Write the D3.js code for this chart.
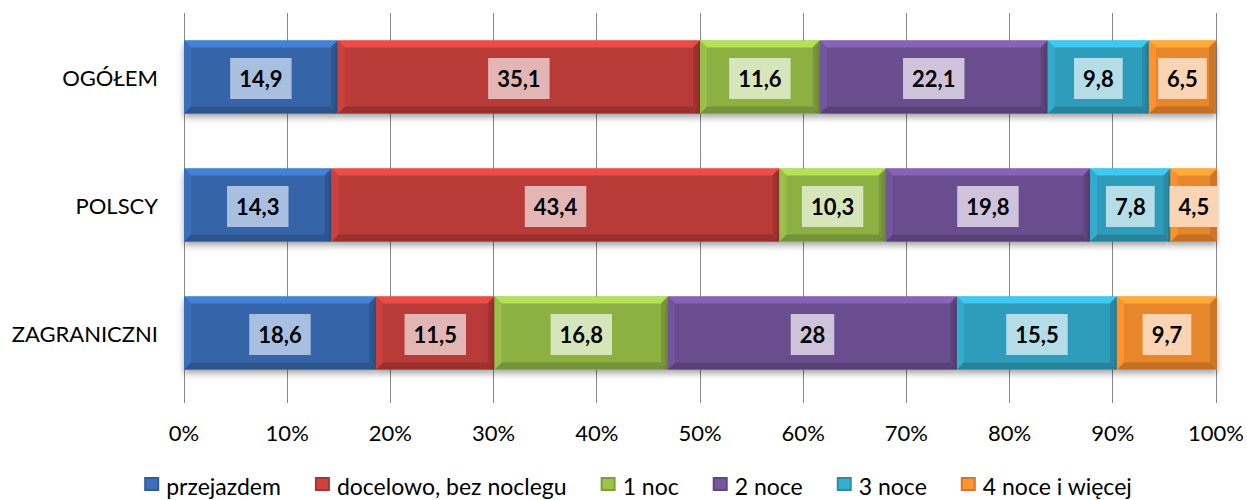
<!DOCTYPE html>
<html><head><meta charset="utf-8">
<script src="https://cdn.jsdelivr.net/npm/d3@7"></script>
<style>body{margin:0;background:#fff}svg{display:block;font-family:Lato,"Open Sans",sans-serif}</style>
</head><body><svg id="c" width="1247" height="500"></svg>
<script>
const categories = ["OGÓŁEM","POLSCY","ZAGRANICZNI"];
const seriesNames = ["przejazdem","docelowo, bez noclegu","1 noc","2 noce","3 noce","4 noce i więcej"];
const przejazdem = [14.9,14.3,18.6];
const docelowo = [35.1,43.4,11.5];
const noc1 = [11.6,10.3,16.8];
const noce2 = [22.1,19.8,28];
const noce3 = [9.8,7.8,15.5];
const noce4 = [6.5,4.5,9.7];
const seriesValues = [przejazdem,docelowo,noc1,noce2,noce3,noce4];
const tickValues = [0,10,20,30,40,50,60,70,80,90,100];
const colors = ["#3565a8","#b93b38","#8cb043","#6a4e8e","#2f9dbb","#e8862b"];
const labelBg = ["#a9bfdf","#e3b5b4","#d6e5ba","#cfc3dc","#b5dde8","#fbd4b4"];

const svg = d3.select("#c");
const x = d3.scaleLinear().domain([0,100]).range([184,1216]);
const y = d3.scaleBand().domain(categories).range([13,397]).paddingInner(0.43).paddingOuter(0.215);

const defs = svg.append("defs");
const f = defs.append("filter").attr("id","sh").attr("x","-5%").attr("y","-20%").attr("width","110%").attr("height","160%");
f.append("feDropShadow").attr("dx",0).attr("dy",4).attr("stdDeviation",3).attr("flood-color","#000").attr("flood-opacity",0.35);

// grid
svg.append("g").selectAll("line").data(tickValues).join("line")
  .attr("x1",d=>x(d)).attr("x2",d=>x(d)).attr("y1",13).attr("y2",403)
  .attr("stroke","#878787").attr("stroke-width",1).attr("shape-rendering","crispEdges");

// tick labels
svg.append("g").selectAll("text").data(tickValues).join("text")
  .attr("x",d=>x(d)).attr("y",441).attr("text-anchor","middle")
  .attr("font-size",22).attr("fill","#000").text(d=>d+"%");

// category labels
svg.append("g").selectAll("text").data(categories).join("text")
  .attr("x",158).attr("y",d=>y(d)+y.bandwidth()/2+9).attr("text-anchor","end")
  .attr("font-size",22).attr("fill","#000").text(d=>d);

const segs = [];
categories.forEach((c,ci)=>{
  let acc=0;
  seriesValues.forEach((s,si)=>{segs.push({c,si,v:s[ci],x0:acc,x1:acc+s[ci]});acc+=s[ci];});
});

const bh = y.bandwidth();
const bev = 7;
const g = svg.append("g");
segs.forEach(d=>{
  const x0=x(d.x0), x1=x(d.x1), y0=y(d.c), y1=y0+bh, col=d3.color(colors[d.si]);
  const gg = g.append("g");
  gg.append("rect").attr("x",x0).attr("y",y0).attr("width",x1-x0).attr("height",bh).attr("fill",col).attr("filter","url(#sh)");
  const b = Math.min(bev,(x1-x0)/2);
  gg.append("polygon").attr("points",[[x0,y0],[x1,y0],[x1-b,y0+b],[x0+b,y0+b]].join(" ")).attr("fill",col.brighter(0.7));
  gg.append("polygon").attr("points",[[x0,y1],[x1,y1],[x1-b,y1-b],[x0+b,y1-b]].join(" ")).attr("fill",col.darker(0.5));
  gg.append("polygon").attr("points",[[x0,y0],[x0+b,y0+b],[x0+b,y1-b],[x0,y1]].join(" ")).attr("fill",col.brighter(0.25));
  gg.append("polygon").attr("points",[[x1,y0],[x1-b,y0+b],[x1-b,y1-b],[x1,y1]].join(" ")).attr("fill",col.darker(0.35));
  const cx=(x0+x1)/2, cy=y0+bh/2+1.5;
  const t = gg.append("text").attr("x",cx).attr("y",cy+8).attr("text-anchor","middle")
    .attr("font-size",22).attr("font-weight","bold").attr("fill","#000").text(String(d.v).replace(".",","));
  const w = t.node().getComputedTextLength();
  gg.insert("rect","text").attr("x",cx-w/2-9).attr("y",cy-20.5).attr("width",w+18).attr("height",41).attr("fill",labelBg[d.si]);
});

// legend
const lg = svg.append("g");
const items = [];
let lx = 0;
seriesNames.forEach((n,i)=>{
  const it = lg.append("g");
  const col=d3.color(colors[i]);
  it.append("rect").attr("x",0).attr("y",477).attr("width",15).attr("height",14).attr("fill",col.darker(0.3));
  it.append("rect").attr("x",2).attr("y",479).attr("width",11).attr("height",10).attr("fill",col.brighter(0.3));
  const t = it.append("text").attr("x",22).attr("y",495).attr("font-size",23).attr("fill","#000").text(n);
  it.attr("transform",`translate(${lx},0)`);
  lx += 22 + t.node().getComputedTextLength() + 34;
});
const total = lx - 34;
lg.attr("transform",`translate(${638 - total/2},0)`);
</script></body></html>
